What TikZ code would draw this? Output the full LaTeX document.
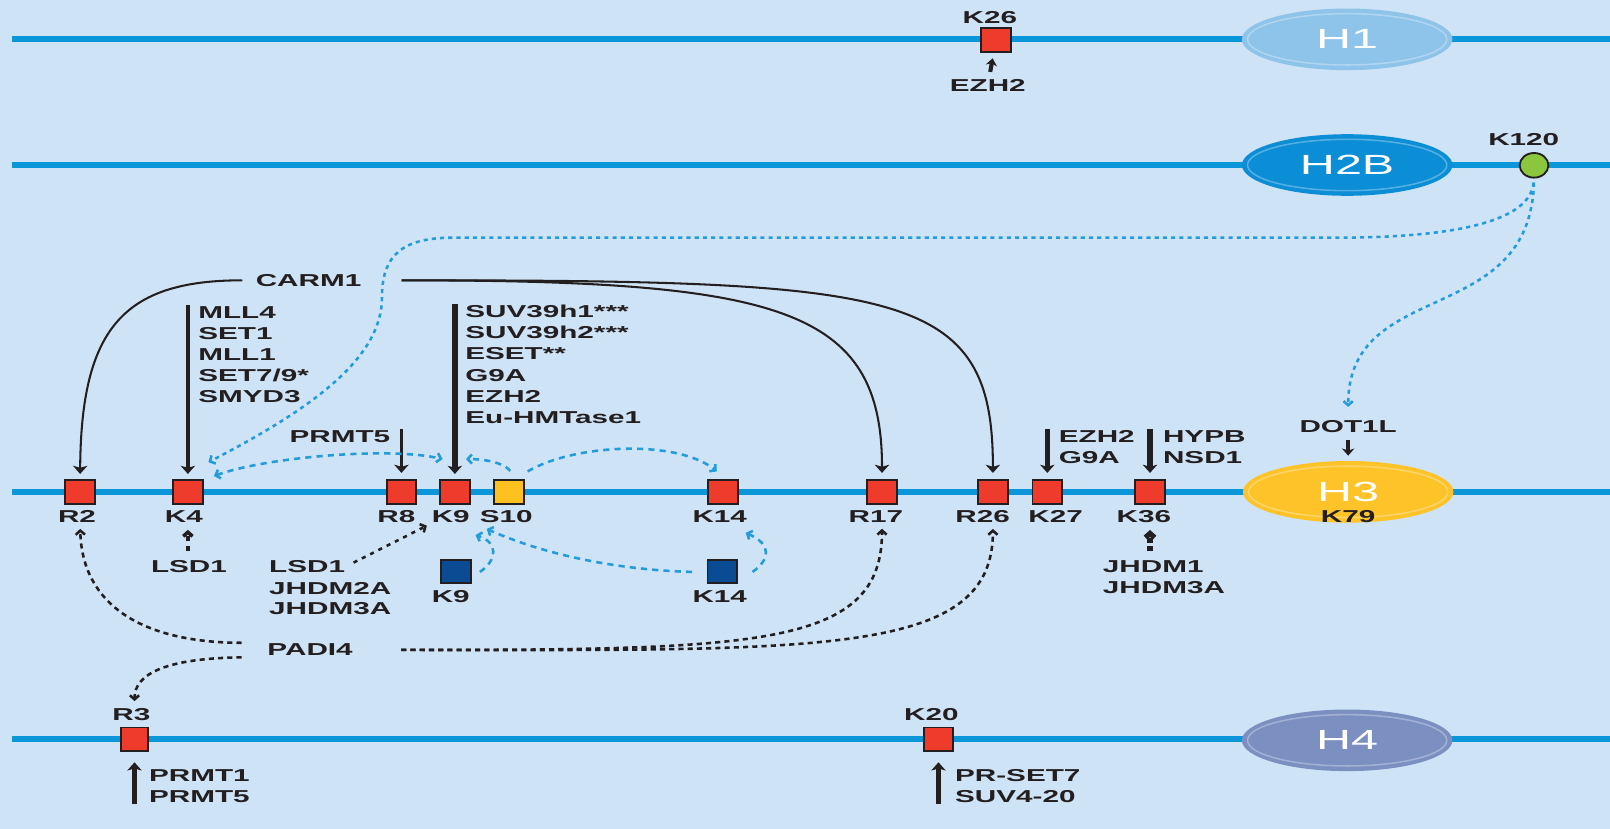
\documentclass[tikz,border=0pt]{standalone}
\usepackage{fontspec}
\usetikzlibrary{arrows.meta,shapes.geometric}
\newfontfamily\lblfont{Liberation Sans}[FakeStretch=1.72]
\newfontfamily\histfont{Liberation Sans}[FakeStretch=1.75]
\definecolor{bgcol}{HTML}{CFE3F6}
\definecolor{hblue}{HTML}{0A96D8}
\definecolor{hone}{HTML}{8EC3EA}
\definecolor{htwob}{HTML}{0B8ED6}
\definecolor{hthree}{HTML}{FEC328}
\definecolor{hfour}{HTML}{7B8FC1}
\definecolor{sred}{HTML}{EE3B2B}
\definecolor{syellow}{HTML}{FDC21F}
\definecolor{snavy}{HTML}{0A4B94}
\definecolor{sgreen}{HTML}{8CC63F}
\definecolor{ink}{HTML}{231F20}
\definecolor{xblue}{HTML}{239CDB}
\newcommand\lblsize{\fontsize{16.8pt}{20.6pt}\selectfont}
\tikzset{
  hline/.style   = {line width=5.5pt, hblue},
  histone/.style = {ellipse, minimum width=205pt, minimum height=60pt, inner sep=0pt,
                    text=white, font=\histfont\fontsize{27pt}{30pt}\selectfont},
  site/.style    = {rectangle, draw=ink, line width=1.8pt, fill=sred,
                    minimum width=29pt, minimum height=23pt, inner sep=0pt},
  lbl/.style     = {inner sep=1pt, text=ink, font=\lblfont\bfseries\lblsize},
  enzlist/.style = {lbl, align=left, anchor=north west},
  enz/.style     = {-{Stealth[length=8pt,width=14pt,inset=2pt]}, ink, line width=2pt},
  demeth/.style  = {-{Straight Barb[length=4pt,width=9pt]}, ink, line width=2.5pt,
                    dash pattern=on 5pt off 4pt},
  xtalk/.style   = {-{Straight Barb[length=4pt,width=9pt]}, xblue, line width=2.5pt,
                    dash pattern=on 6pt off 5pt},
}

\begin{document}
\begin{tikzpicture}[x=1pt, y=-1pt]
\fill[bgcol] (0,0) rectangle (1568,807.3);
\useasboundingbox (0,0) rectangle (1568,807.3);
% ---- backbones ----
\draw[hline] (12,38.3) -- (1568,38.3);
\draw[hline] (12,160.7) -- (1568,160.7);
\draw[hline] (12,479) -- (1568,479);
\draw[hline] (12,720) -- (1568,720);
% ---- histones ----
\node[histone, fill=hone]   (H1)  at (1312,38.3)  {H1};
\node[histone, fill=htwob]  (H2B) at (1312,160.7) {H2B};
\node[histone, fill=hthree] (H3)  at (1313,479)   {H3};
\node[histone, fill=hfour]  (H4)  at (1312,721)   {H4};
\foreach \h in {H1,H2B,H3,H4}
  \draw[white, opacity=0.3, line width=1.5pt] (\h.center) ellipse [x radius=97pt, y radius=25pt];
% ---- H1 ----
\node[site, minimum width=30pt, minimum height=24pt] (sK26) at (970,39) {};
\node[lbl] (lK26) at (964,17) {K26};
\node[lbl] (eK26) at (962,83) {EZH2};
\draw[enz, line width=4pt, -{Stealth[length=7pt,width=11pt,inset=2pt]},
      shorten <=6pt, shorten >=5pt] (eK26) -- (sK26);
% ---- H2B ----
\node[site, ellipse, fill=sgreen, minimum width=28pt, minimum height=24pt] (sK120) at (1494,161) {};
\node[lbl] (lK120) at (1484,136) {K120};
% ---- H3 sites ----
\foreach \n/\x/\c in {R2/78/sred, K4/183/sred, R8/391/sred, K9/443/sred, S10/496/syellow,
                      K14/704/sred, R17/859/sred, R26/967/sred, K27/1020/sred, K36/1120/sred}
  \node[site, fill=\c] (s\n) at (\x,479) {};
\foreach \n/\x in {R2/75, K4/179, R8/386, K9/439, S10/493, K14/701,
                   R17/853, R26/957, K27/1028, K36/1114}
  \node[lbl] (l\n) at (\x,503) {\n};
\node[lbl] (lK79) at (1313,503) {K79};
\node[site, fill=snavy] (sK9b)  at (444,556.5) {};
\node[site, fill=snavy] (sK14b) at (703.5,556.5) {};
\node[lbl] (lK9b)  at (439,581) {K9};
\node[lbl] (lK14b) at (701,581) {K14};
% ---- H4 sites ----
\node[site, minimum width=27pt] (sR3) at (131,720) {};
\node[site, minimum width=28pt] (sK20) at (914,720) {};
\node[lbl] (lR3) at (128,696) {R3};
\node[lbl] (lK20) at (907,696) {K20};
\node[enzlist] (prmtB) at (144,748) {PRMT1\\PRMT5};
\node[enzlist] (prset) at (929,748) {PR-SET7\\SUV4-20};
\draw[enz, line width=4.5pt, shorten >=10pt] (prmtB.south west -| sR3) -- (sR3);
\draw[enz, line width=4.5pt, shorten >=10pt] (prset.south west -| sK20) -- (sK20);
% ---- writers ----
\node[lbl] (carm) at (300.5,273) {CARM1};
\node[enzlist] (mll) at (192,297) {MLL4\\SET1\\MLL1\\SET7/9*\\SMYD3};
\node[enzlist] (suv) at (452,296) {SUV39h1***\\SUV39h2***\\ESET**\\G9A\\EZH2\\Eu-HMTase1};
\node[lbl] (prmtA) at (331,425) {PRMT5};
\node[enzlist] (ezhB) at (1030,418) {EZH2\\G9A};
\node[enzlist] (hypb) at (1131.5,418) {HYPB\\NSD1};
\node[lbl] (dot1l) at (1313,415.5) {DOT1L};
\draw[enz, shorten <=12pt, shorten >=5pt] (carm.west)
  .. controls (120,273) and (79,320) .. (sR2.north);
\draw[enz, shorten <=38pt, shorten >=6pt] (carm.east)
  .. controls (760,273) and (859,300) .. (sR17.north);
\draw[enz, shorten <=38pt, shorten >=6pt] (carm.east)
  .. controls (880,273) and (967,282) .. (sR26.north);
\draw[enz, line width=3.5pt, shorten >=5pt] (mll.north -| sK4) -- (sK4);
\draw[enz, line width=6pt, shorten >=5pt] (suv.north -| sK9) -- (sK9);
\draw[enz, line width=3.5pt, shorten >=6pt] (prmtA.north -| sR8) -- (sR8);
\draw[enz, line width=5.5pt, shorten >=6pt] (ezhB.north -| sK27) -- (sK27);
\draw[enz, line width=5.5pt, shorten >=6pt] (hypb.north -| sK36) -- (sK36);
\draw[enz, line width=4.5pt, -{Stealth[length=7pt,width=12pt,inset=2pt]},
      shorten <=6pt, shorten >=5pt] (dot1l) -- (H3);
% ---- erasers ----
\node[lbl] (lsdA) at (184,551.5) {LSD1};
\node[lbl, anchor=west] (lsdB)   at (261,551.5) {LSD1};
\node[lbl, anchor=west] (jhdm2a) at (261,573)   {JHDM2A};
\node[lbl, anchor=west] (jhdm3a) at (261,592.5) {JHDM3A};
\node[enzlist] (jhdm1) at (1073,545) {JHDM1\\JHDM3A};
\node[lbl] (padi) at (302,633) {PADI4};
\draw[demeth, line width=3.5pt, shorten <=8pt, shorten >=6pt] (lsdA.north -| sK4) -- (lK4.south -| sK4);
\draw[demeth, dash pattern=on 4pt off 5pt, shorten <=8pt, shorten >=4pt] (lsdB.east) -- (lK9.south west);
\draw[demeth, line width=5pt, dash pattern=on 5pt off 3pt, shorten <=8pt, shorten >=6pt]
  (jhdm1.north -| sK36) -- (lK36.south -| sK36);
\draw[demeth, shorten <=24pt, shorten >=5pt] (padi.north west)
  .. controls (140,626) and (80,590) .. (lR2.south -| sR2);
\draw[demeth, shorten <=24pt, shorten >=6pt] (padi.south west)
  .. controls (165,641) and (131,655) .. (lR3.north -| sR3);
\draw[demeth, shorten <=46pt, shorten >=5pt] (padi.east)
  .. controls (740,633) and (859,630) .. (lR17.south -| sR17);
\draw[demeth, shorten <=46pt, shorten >=5pt] (padi.east)
  .. controls (800,633) and (967,640) .. (lR26.south -| sR26);
% ---- crosstalk ----
\draw[xtalk, dash pattern=on 4pt off 4pt, shorten <=4pt] (sK120.south)
  .. controls (1490,215) and (1420,231.5) .. (1300,231.5) -- (440,231.5)
  .. controls (385,231.5) and (372,255) .. (372,290)
  .. controls (372,350) and (300,400) .. ([shift={(20,-16.5)}]sK4.north);
\draw[xtalk, dash pattern=on 4pt off 4pt, shorten <=4pt] (sK120.south)
  .. controls (1490,320) and (1313,270) .. ([shift={(0,-12)}]dot1l.north);
\draw[xtalk, {Straight Barb[length=4pt,width=9pt]}-{Straight Barb[length=4pt,width=9pt]}]
  ([shift={(10,-3)}]sK4.north east) .. controls (260,445) and (380,435)
  .. ([shift={(3.5,-19.5)}]sK9.north west);
\draw[xtalk] ([shift={(1,-8)}]sS10.north) .. controls (490,450) and (470,447)
  .. ([shift={(-4.5,-19.5)}]sK9.north east);
\draw[xtalk] ([shift={(2.5,-7.5)}]sS10.north east) .. controls (560,432) and (660,428)
  .. ([shift={(9.5,-7.5)}]sK14.north west);
\draw[xtalk] ([shift={(8,0.5)}]sK9b.east) .. controls (485,545) and (485,528)
  .. ([shift={(-3,11)}]lS10.south west);
\draw[xtalk] ([shift={(-14,0.5)}]sK14b.west) .. controls (600,555) and (530,540)
  .. ([shift={(-19,5)}]lS10.south);
\draw[xtalk] ([shift={(14,0.5)}]sK14b.east) .. controls (750,545) and (752,530)
  .. ([shift={(-2.5,9)}]lK14.south east);
\end{tikzpicture}
\end{document}
